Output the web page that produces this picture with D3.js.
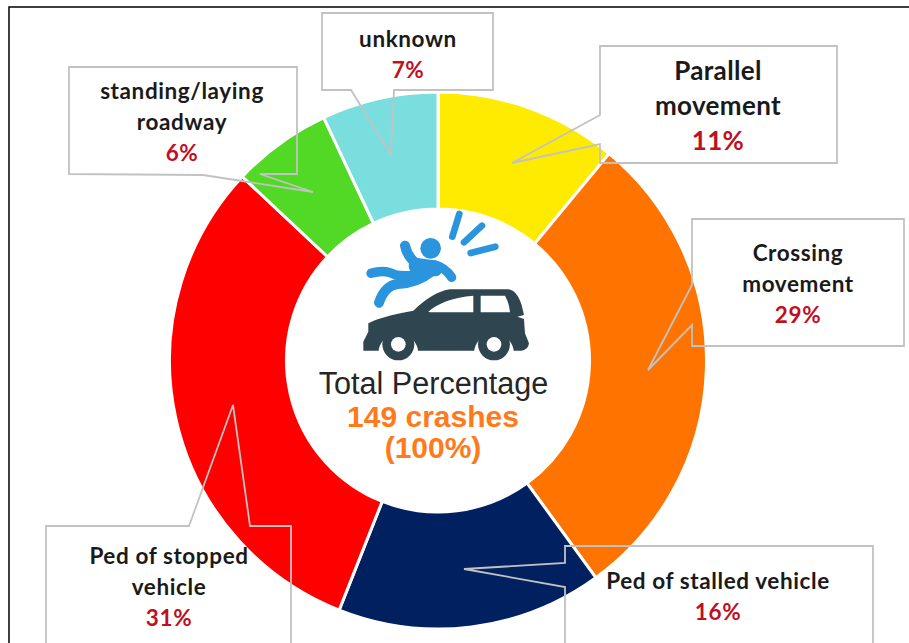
<!DOCTYPE html>
<html>
<head>
<meta charset="utf-8">
<script src="https://cdn.jsdelivr.net/npm/d3@7"></script>
<style>html,body{margin:0;padding:0;background:#fff;overflow:hidden}svg{display:block}</style>
</head>
<body>
<svg id="chart" width="909" height="643"></svg>
<script>
const categories = ["Parallel movement","Crossing movement","Ped of stalled vehicle","Ped of stopped vehicle","standing/laying roadway","unknown"];
const values = [11,29,16,31,6,7];
const colors = ["#FFEB00","#FF7300","#002060","#FF0000","#52D926","#7ADEDE"];

const labelLines = [["Parallel","movement"],["Crossing","movement"],["Ped of stalled vehicle"],["Ped of stopped","vehicle"],["standing/laying","roadway"],["unknown"]];
const labelX = [718,798,718,169,182,408];
const labelY = [71,253,581,556,91,39];
const labelStep = [35,31,31,31,31,31];
const labelSize = [26,22.5,22.5,22.5,22.5,22.5];
const labelSpacing = [0.35,0.6,0.6,0.6,0.6,0.6];

const callouts = [
 [[600,46],[837,46],[837,163],[600,163],[600,144],[512,163],[600,115]],
 [[692,219],[904,219],[904,346],[692,346],[692,325],[648,370],[692,285]],
 [[565,546],[873,546],[873,650],[565,650],[565,587],[464,569],[565,563]],
 [[46,526],[189,526],[233,405],[250,526],[291,526],[291,650],[46,650]],
 [[69,67],[297,67],[297,174],[260,174],[313,192],[242,181],[203,175],[69,174]],
 [[322,13],[493,13],[493,90],[394,90],[391,155],[351,90],[322,90]]
];

const svg = d3.select("#chart");
svg.append("rect").attr("x",9).attr("y",7).attr("width",940).attr("height",700)
  .attr("fill","#fff").attr("stroke","#111").attr("stroke-width",1.6);

const cx = 438, cy = 360.5;
const pie = d3.pie().sort(null).value(d=>d);
const arc = d3.arc().innerRadius(151.5).outerRadius(268.5);
const g = svg.append("g").attr("transform",`translate(${cx},${cy})`);
g.selectAll("path").data(pie(values)).join("path")
  .attr("d",arc)
  .attr("fill",(d,i)=>colors[i])
  .attr("stroke","#fff").attr("stroke-width",3);

svg.append("g").selectAll("path").data(callouts).join("path")
  .attr("d",d=>d3.line()(d)+"Z")
  .attr("fill","none").attr("stroke","#c2c2c2").attr("stroke-width",1.8);

const lab = svg.append("g").attr("font-family","Lato, 'Open Sans', sans-serif")
  .attr("font-weight",700).attr("text-anchor","middle");
categories.forEach((c,i)=>{
  const lines = labelLines[i];
  lines.forEach((t,j)=>{
    lab.append("text").attr("x",labelX[i]).attr("y",labelY[i]+j*labelStep[i])
      .attr("dy","0.36em").attr("font-size",labelSize[i]).attr("letter-spacing",labelSpacing[i])
      .attr("fill","#1a1a1a").text(t);
  });
  lab.append("text").attr("x",labelX[i]).attr("y",labelY[i]+lines.length*labelStep[i])
    .attr("dy","0.36em").attr("font-size",labelSize[i]).attr("letter-spacing",labelSpacing[i])
    .attr("fill","#C00F1F").text(values[i]+"%");
});

// centre icon
const ic = svg.append("g").attr("transform","translate(300,190) scale(0.3333)");
const blue = "#2A94DC", dark = "#2F4650";
ic.append("circle").attr("cx",392).attr("cy",175).attr("r",31).attr("fill",blue);
const strokes = [
 {d:"M315,167 Q322,200 350,222",w:30},
 {d:"M350,228 L405,235",w:48},
 {d:"M405,225 Q435,232 455,262",w:28},
 {d:"M395,245 Q350,280 295,282 Q255,285 237,338",w:30},
 {d:"M340,255 Q295,262 270,248 Q245,240 213,250",w:28}
];
ic.selectAll("path.b").data(strokes).join("path").attr("class","b").attr("d",d=>d.d)
  .attr("fill","none").attr("stroke",blue).attr("stroke-width",d=>d.w)
  .attr("stroke-linecap","round").attr("stroke-linejoin","round");
const rays = ["M478,72 L457,140","M546,107 L492,157","M586,170 L512,189"];
ic.selectAll("path.r").data(rays).join("path").attr("class","r").attr("d",d=>d)
  .attr("fill","none").attr("stroke",blue).attr("stroke-width",20).attr("stroke-linecap","round");
ic.append("path").attr("fill",dark).attr("d","M190,455 L205,425 L205,400 Q240,380 340,362 Q400,305 450,298 L625,298 Q650,300 665,345 L672,375 L652,380 L672,387 L675,430 L687,460 Q685,480 665,482 L190,482 Z");
ic.append("path").attr("fill","#fff").attr("d","M385,365 Q430,325 520,317 L520,367 L390,367 Z M542,317 L615,317 Q628,340 630,367 L542,367 Z");
ic.selectAll("g.w").data([295,582]).join("g").attr("class","w").each(function(x){
  const w = d3.select(this);
  w.append("path").attr("d",`M${x-60},490 A60,60 0 0 1 ${x+60},490 Z`).attr("fill","#fff");
  w.append("circle").attr("cx",x).attr("cy",463).attr("r",48).attr("fill",dark);
  w.append("circle").attr("cx",x).attr("cy",463).attr("r",22).attr("fill","#fff");
});

const ct = svg.append("g").attr("font-family","'Liberation Sans', Arial, sans-serif").attr("text-anchor","middle");
ct.append("text").attr("x",433.5).attr("y",394).attr("font-size",30.6).attr("fill","#262626").text("Total Percentage");
ct.append("text").attr("x",433).attr("y",427).attr("font-size",30).attr("font-weight",700).attr("fill","#FF7A1A").text("149 crashes");
ct.append("text").attr("x",433).attr("y",458).attr("font-size",30).attr("font-weight",700).attr("fill","#FF7A1A").text("(100%)");
</script>
</body>
</html>
